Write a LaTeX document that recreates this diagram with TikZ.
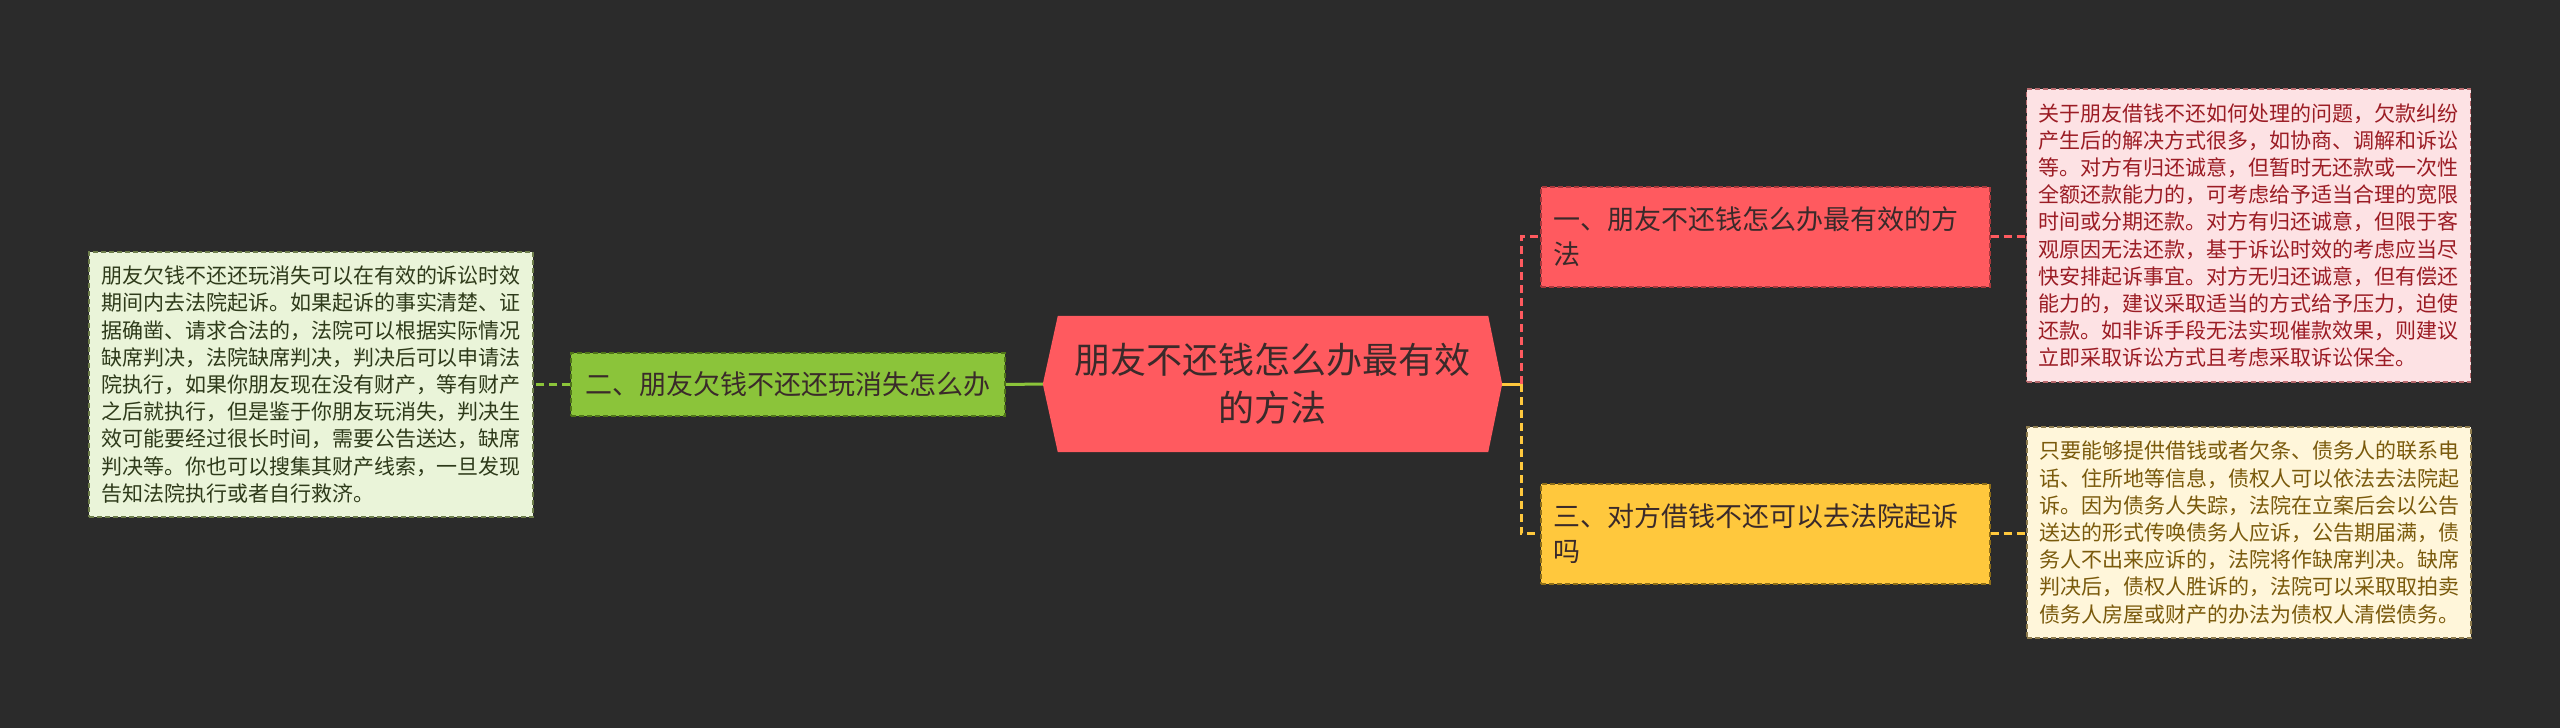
\documentclass[tikz,border=0pt]{standalone}
\usepackage{fontspec}
\newfontfamily\cjk{Noto Sans CJK SC}
\usetikzlibrary{backgrounds}
\definecolor{bg}{HTML}{2B2B2B}
\definecolor{rootred}{HTML}{FF5A5F}
\definecolor{redborder}{HTML}{A8383C}
\definecolor{grn}{HTML}{8BC43A}
\definecolor{grnborder}{HTML}{4F7419}
\definecolor{ylw}{HTML}{FFC83D}
\definecolor{ylwborder}{HTML}{8E6E18}
\definecolor{pinkfill}{HTML}{FDE2E4}
\definecolor{pinktext}{HTML}{9B1C24}
\definecolor{pinkborder}{HTML}{B86A6E}
\definecolor{creamfill}{HTML}{FFF6DA}
\definecolor{creamtext}{HTML}{7A5A0C}
\definecolor{creamborder}{HTML}{8E7C4E}
\definecolor{lgfill}{HTML}{EAF4D9}
\definecolor{lgtext}{HTML}{2E3A1A}
\definecolor{lgborder}{HTML}{6E7E4C}
\definecolor{darktext}{HTML}{3A2A2A}
\tikzset{
  boxdash/.style={dash pattern=on 5pt off 3pt, line width=1.5pt},
  leafbox/.style={boxdash, inner xsep=12pt, inner ysep=0pt, text width=420pt, align=left,
    font=\cjk\fontsize{21}{27.2}\selectfont},
  branchbox/.style={boxdash, inner xsep=13pt, inner ysep=0pt, text width=423pt, align=left,
    minimum height=100pt, text=darktext, font=\cjk\fontsize{27}{35}\selectfont},
  conn/.style={line width=3pt, dash pattern=on 8pt off 5pt},
}
\begin{document}
\begin{tikzpicture}[x=1pt,y=-1pt]
\begin{scope}[on background layer]
\fill[bg] (0,0) rectangle (2560,728);
\end{scope}
\useasboundingbox (0,0) rectangle (2560,728);

% root
\node[minimum width=459pt, minimum height=136pt, inner sep=0pt, align=center,
  text=darktext, font=\cjk\fontsize{36}{48}\selectfont] (root) at (1272.5,384)
  {朋友不还钱怎么办最有效\\的方法};
\begin{scope}[on background layer]
\fill[rootred] ([xshift=15pt]root.north west) -- ([xshift=-14pt]root.north east)
  -- (root.east) -- ([xshift=-14pt]root.south east) -- ([xshift=15pt]root.south west)
  -- (root.west) -- cycle;
\end{scope}

% branches
\node[branchbox, fill=rootred, draw=redborder, anchor=north west] (b1) at (1540,186)
  {一、朋友不还钱怎么办最有效的方\\法};
\node[branchbox, fill=ylw, draw=ylwborder, anchor=north west] (b3) at (1540,483)
  {三、对方借钱不还可以去法院起诉\\吗};
\node[boxdash, fill=grn, draw=grnborder, minimum width=434pt, minimum height=63pt,
  inner sep=0pt, text=darktext, font=\cjk\fontsize{27}{35}\selectfont] (b2) at (788,384.5)
  {二、朋友欠钱不还还玩消失怎么办};

% leaves
\node[leafbox, fill=pinkfill, draw=pinkborder, text=pinktext, minimum height=293pt] (l1) at (2248.5,235.5)
  {关于朋友借钱不还如何处理的问题，欠款纠纷\\产生后的解决方式很多，如协商、调解和诉讼\\等。对方有归还诚意，但暂时无还款或一次性\\全额还款能力的，可考虑给予适当合理的宽限\\时间或分期还款。对方有归还诚意，但限于客\\观原因无法还款，基于诉讼时效的考虑应当尽\\快安排起诉事宜。对方无归还诚意，但有偿还\\能力的，建议采取适当的方式给予压力，迫使\\还款。如非诉手段无法实现催款效果，则建议\\立即采取诉讼方式且考虑采取诉讼保全。};
\node[leafbox, fill=creamfill, draw=creamborder, text=creamtext, minimum height=211pt] (l3) at (2249,532.5)
  {只要能够提供借钱或者欠条、债务人的联系电\\话、住所地等信息，债权人可以依法去法院起\\诉。因为债务人失踪，法院在立案后会以公告\\送达的形式传唤债务人应诉，公告期届满，债\\务人不出来应诉的，法院将作缺席判决。缺席\\判决后，债权人胜诉的，法院可以采取取拍卖\\债务人房屋或财产的办法为债权人清偿债务。};
\node[leafbox, fill=lgfill, draw=lgborder, text=lgtext, minimum height=265pt] (l2) at (311,384.5)
  {朋友欠钱不还还玩消失可以在有效的诉讼时效\\期间内去法院起诉。如果起诉的事实清楚、证\\据确凿、请求合法的，法院可以根据实际情况\\缺席判决，法院缺席判决，判决后可以申请法\\院执行，如果你朋友现在没有财产，等有财产\\之后就执行，但是鉴于你朋友玩消失，判决生\\效可能要经过很长时间，需要公告送达，缺席\\判决等。你也可以搜集其财产线索，一旦发现\\告知法院执行或者自行救济。};

% connectors
\coordinate (j) at (1521,384);
\begin{scope}[on background layer]
\draw[ylw, line width=3pt] (root.east) -- (j);
\draw[conn, rootred] (j) |- (b1.west);
\draw[conn, ylw] (j) |- (b3.west);
\draw[grn, line width=3pt] (root.west) -- (b2.east);
\draw[conn, grn] (b2.west) -- (l2.east);
\draw[conn, rootred] (b1.east) -- (l1.west |- b1.east);
\draw[conn, ylw] (b3.east) -- (l3.west |- b3.east);
\end{scope}
\end{tikzpicture}
\end{document}
